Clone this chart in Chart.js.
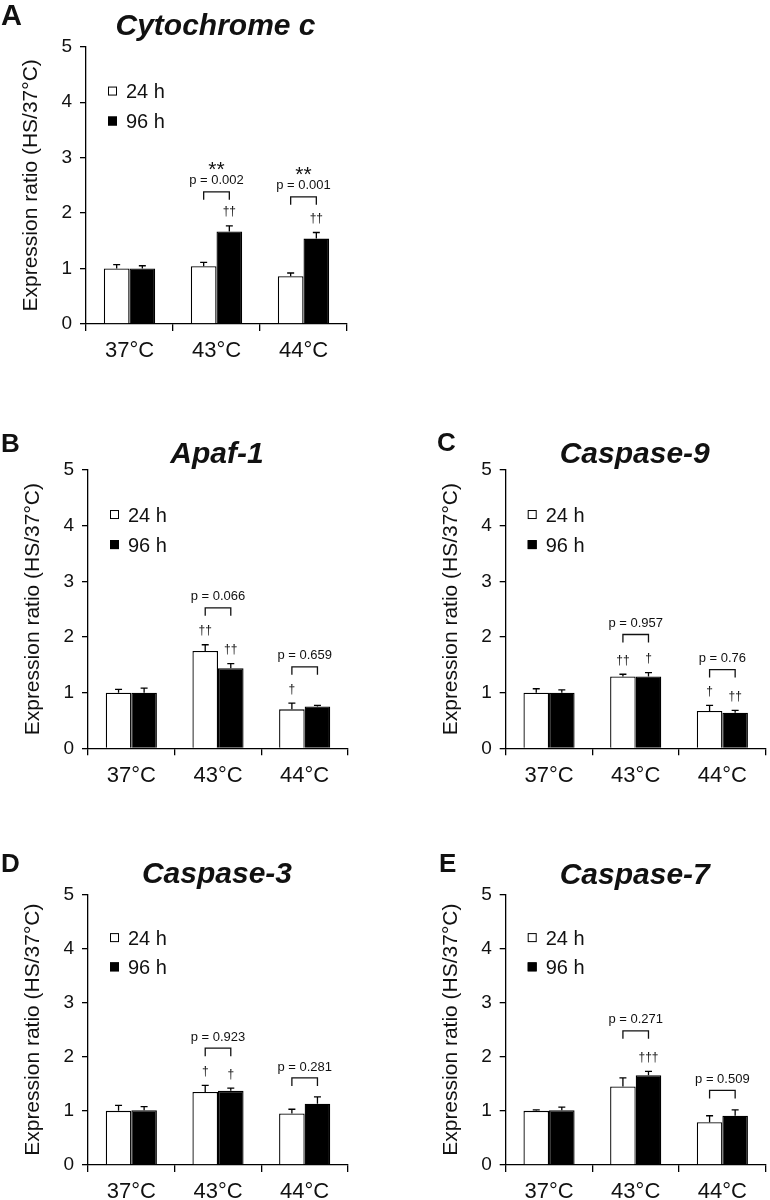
<!DOCTYPE html>
<html><head><meta charset="utf-8">
<script src="https://cdn.jsdelivr.net/npm/chart.js@4.4.1/dist/chart.umd.min.js"></script>
<style>
html,body{margin:0;padding:0;background:#fff;}
#wrap{position:relative;width:770px;height:1200px;overflow:hidden;background:#fff;}
.panel{position:absolute;width:385px;height:400px;}
</style></head><body><div id="wrap">
<div class="panel" style="left:0;top:0"><canvas id="cA" width="385" height="400"></canvas></div>
<div class="panel" style="left:0;top:400px"><canvas id="cB" width="385" height="400"></canvas></div>
<div class="panel" style="left:385px;top:400px"><canvas id="cC" width="385" height="400"></canvas></div>
<div class="panel" style="left:0;top:800px"><canvas id="cD" width="385" height="400"></canvas></div>
<div class="panel" style="left:385px;top:800px"><canvas id="cE" width="385" height="400"></canvas></div>
</div>
<script>
// ---------- data ----------
const categories = ['37°C', '43°C', '44°C'];
const seriesNames = ['24 h', '96 h'];
const yTickLabels = ['0', '1', '2', '3', '4', '5'];
const yAxisTitle = 'Expression ratio (HS/37°C)';
const panelLetters = ['A', 'B', 'C', 'D', 'E'];
const geneNames = ['Cytochrome c', 'Apaf-1', 'Caspase-9', 'Caspase-3', 'Caspase-7'];

const cytc24 = [1.00, 1.04, 0.86];
const cytc24Err = [0.07, 0.07, 0.06];
const cytc96 = [1.00, 1.67, 1.54];
const cytc96Err = [0.05, 0.10, 0.11];
const cytcP = ['', 'p = 0.002', 'p = 0.001'];
const cytcStars = ['', '**', '**'];
const cytcDag24 = ['', '', ''];
const cytcDag96 = ['', '††', '††'];

const apaf24 = [1.00, 1.75, 0.70];
const apaf24Err = [0.06, 0.11, 0.11];
const apaf96 = [1.00, 1.44, 0.75];
const apaf96Err = [0.08, 0.08, 0.02];
const apafP = ['', 'p = 0.066', 'p = 0.659'];
const apafStars = ['', '', ''];
const apafDag24 = ['', '††', '†'];
const apafDag96 = ['', '††', ''];

const casp9_24 = [1.00, 1.29, 0.67];
const casp9_24Err = [0.07, 0.04, 0.10];
const casp9_96 = [1.00, 1.29, 0.64];
const casp9_96Err = [0.05, 0.07, 0.04];
const casp9P = ['', 'p = 0.957', 'p = 0.76'];
const casp9Stars = ['', '', ''];
const casp9Dag24 = ['', '††', '†'];
const casp9Dag96 = ['', '†', '††'];

const casp3_24 = [1.00, 1.35, 0.95];
const casp3_24Err = [0.10, 0.12, 0.08];
const casp3_96 = [1.01, 1.37, 1.13];
const casp3_96Err = [0.07, 0.05, 0.13];
const casp3P = ['', 'p = 0.923', 'p = 0.281'];
const casp3Stars = ['', '', ''];
const casp3Dag24 = ['', '†', ''];
const casp3Dag96 = ['', '†', ''];

const casp7_24 = [1.00, 1.45, 0.79];
const casp7_24Err = [0.02, 0.16, 0.12];
const casp7_96 = [1.01, 1.66, 0.91];
const casp7_96Err = [0.06, 0.07, 0.11];
const casp7P = ['', 'p = 0.271', 'p = 0.509'];
const casp7Stars = ['', '', ''];
const casp7Dag24 = ['', '', ''];
const casp7Dag96 = ['', '†††', ''];

// ---------- layout (positions / styles) ----------
const FONT = '"Liberation Sans", Arial, Helvetica, sans-serif';
Chart.defaults.font.family = FONT;
const panels = [
  {id:'cA', i:0, d24:cytc24, e24:cytc24Err, d96:cytc96, e96:cytc96Err, pv:cytcP, st:cytcStars, g24:cytcDag24, g96:cytcDag96,
   area:{left:86, top:46.7, right:347, bottom:324}, pY:[0, 2.60, 2.51], titleDy:22.5, letterX:1, letterSize:29},
  {id:'cB', i:1, d24:apaf24, e24:apaf24Err, d96:apaf96, e96:apaf96Err, pv:apafP, st:apafStars, g24:apafDag24, g96:apafDag96,
   area:{left:88, top:70, right:348, bottom:348.3}, pY:[0, 2.74, 1.68], titleDy:17.7, letterX:1, letterSize:26},
  {id:'cC', i:2, d24:casp9_24, e24:casp9_24Err, d96:casp9_96, e96:casp9_96Err, pv:casp9P, st:casp9Stars, g24:casp9Dag24, g96:casp9Dag96,
   area:{left:120.7, top:70, right:380.7, bottom:348.3}, pY:[0, 2.26, 1.63], titleDy:18, letterX:52, letterSize:26},
  {id:'cD', i:3, d24:casp3_24, e24:casp3_24Err, d96:casp3_96, e96:casp3_96Err, pv:casp3P, st:casp3Stars, g24:casp3Dag24, g96:casp3Dag96,
   area:{left:88, top:94.3, right:348, bottom:365}, pY:[0, 2.38, 1.83], titleDy:22, letterX:1, letterSize:26},
  {id:'cE', i:4, d24:casp7_24, e24:casp7_24Err, d96:casp7_96, e96:casp7_96Err, pv:casp7P, st:casp7Stars, g24:casp7Dag24, g96:casp7Dag96,
   area:{left:120.7, top:94.3, right:380.7, bottom:365}, pY:[0, 2.70, 1.60], titleDy:21.5, letterX:54, letterSize:26}
];

const INK = '#111';

const decoPlugin = {
  id: 'deco',
  afterDatasetsDraw(chart) {
    const p = chart.options.plugins.deco;
    const ctx = chart.ctx, ys = chart.scales.y;
    ctx.save();
    ctx.strokeStyle = '#000';
    ctx.lineWidth = 1.3;
    [p.e24, p.e96].forEach((errs, di) => {
      const meta = chart.getDatasetMeta(di);
      meta.data.forEach((bar, j) => {
        const v = chart.data.datasets[di].data[j];
        const yTop = ys.getPixelForValue(v + errs[j]);
        ctx.beginPath();
        ctx.moveTo(bar.x, bar.y);
        ctx.lineTo(bar.x, yTop);
        ctx.moveTo(bar.x - 3.5, yTop);
        ctx.lineTo(bar.x + 3.5, yTop);
        ctx.stroke();
      });
    });
    ctx.restore();
  },
  afterDraw(chart) {
    const p = chart.options.plugins.deco;
    const ctx = chart.ctx, ys = chart.scales.y, ca = chart.chartArea;
    ctx.save();
    ctx.fillStyle = INK;
    ctx.strokeStyle = INK;
    // title
    const capTitle = ca.top - p.titleDy;
    ctx.font = 'italic bold 30px ' + FONT;
    ctx.textAlign = 'center';
    ctx.textBaseline = 'alphabetic';
    ctx.fillText(geneNames[p.i], (ca.left + ca.right) / 2 - 1, capTitle + 0.358 * 30);
    // letter
    ctx.font = 'bold ' + p.letterSize + 'px ' + FONT;
    ctx.textAlign = 'left';
    ctx.fillText(panelLetters[p.i], p.letterX, capTitle - 10 + 0.358 * p.letterSize);
    // legend
    const legY = [4.2, 3.66];
    chart.data.datasets.forEach((ds, di) => {
      const cy = ys.getPixelForValue(legY[di]);
      ctx.fillStyle = ds.backgroundColor;
      ctx.fillRect(ca.left + 22, cy - 4.5, 9, 9);
      ctx.strokeStyle = '#000';
      ctx.lineWidth = 1;
      ctx.strokeRect(ca.left + 22.5, cy - 4, 8, 8);
      ctx.fillStyle = INK;
      ctx.font = '20px ' + FONT;
      ctx.textAlign = 'left';
      ctx.fillText(ds.label, ca.left + 40, cy + 0.358 * 20);
    });
    // brackets, p values, stars
    const m0 = chart.getDatasetMeta(0), m1 = chart.getDatasetMeta(1);
    ctx.lineWidth = 1.3;
    ctx.strokeStyle = INK;
    p.pv.forEach((txt, j) => {
      if (!txt) return;
      const x0 = m0.data[j].x, x1 = m1.data[j].x;
      const py = ys.getPixelForValue(p.pY[j]);
      const bt = py + 12, bb = py + 20;
      ctx.beginPath();
      ctx.moveTo(x0, bb); ctx.lineTo(x0, bt); ctx.lineTo(x1, bt); ctx.lineTo(x1, bb);
      ctx.stroke();
      ctx.font = '13px ' + FONT;
      ctx.textAlign = 'center';
      ctx.fillText(txt, (x0 + x1) / 2, py + 0.358 * 13);
      if (p.st[j]) {
        ctx.font = '21px ' + FONT;
        ctx.fillText(p.st[j], (x0 + x1) / 2, py - 16 + 0.58 * 21);
      }
    });
    // daggers
    [[p.g24, p.e24, m0, 0], [p.g96, p.e96, m1, 1]].forEach(([g, errs, meta, di]) => {
      g.forEach((txt, j) => {
        if (!txt) return;
        const v = chart.data.datasets[di].data[j];
        const cy = ys.getPixelForValue(v + errs[j]) - 14;
        ctx.font = '12px ' + FONT;
        ctx.textAlign = 'center';
        ctx.fillText(txt, meta.data[j].x, cy + 0.3 * 12);
      });
    });
    ctx.restore();
  }
};

panels.forEach(p => {
  const W = 385, H = 400, yW = 67, xH = 40;
  new Chart(document.getElementById(p.id), {
    type: 'bar',
    data: {
      labels: categories,
      datasets: [
        {label: seriesNames[0], data: p.d24, backgroundColor: '#ffffff', borderColor: '#000', borderWidth: 1.3,
         barPercentage: 1, categoryPercentage: 0.59},
        {label: seriesNames[1], data: p.d96, backgroundColor: '#000000', borderColor: '#000', borderWidth: 1.3,
         barPercentage: 1, categoryPercentage: 0.59}
      ]
    },
    plugins: [decoPlugin],
    options: {
      responsive: false,
      animation: false,
      devicePixelRatio: 1,
      layout: {padding: {left: p.area.left - yW, top: p.area.top, right: W - p.area.right, bottom: H - p.area.bottom - xH}},
      plugins: {legend: {display: false}, tooltip: {enabled: false}, title: {display: false}, deco: p},
      scales: {
        x: {
          offset: true,
          grid: {display: true, offset: true, drawOnChartArea: false, drawTicks: true, tickLength: 7, color: '#000', lineWidth: 1.3},
          border: {display: true, color: '#000', width: 1.3},
          ticks: {color: INK, font: {size: 22}, padding: 7, maxRotation: 0, autoSkip: false},
          afterFit: s => { s.height = xH; }
        },
        y: {
          min: 0, max: 5,
          grid: {display: true, drawOnChartArea: false, drawTicks: true, tickLength: 6, color: '#000', lineWidth: 1.3},
          border: {display: true, color: '#000', width: 1.3},
          ticks: {stepSize: 1, color: INK, font: {size: 19}, padding: 8,
                  callback: (v, idx) => yTickLabels[idx]},
          title: {display: true, text: yAxisTitle, color: INK, font: {size: 21}, padding: 0},
          afterFit: s => { s.width = yW; }
        }
      }
    }
  });
});
</script>
</body></html>
